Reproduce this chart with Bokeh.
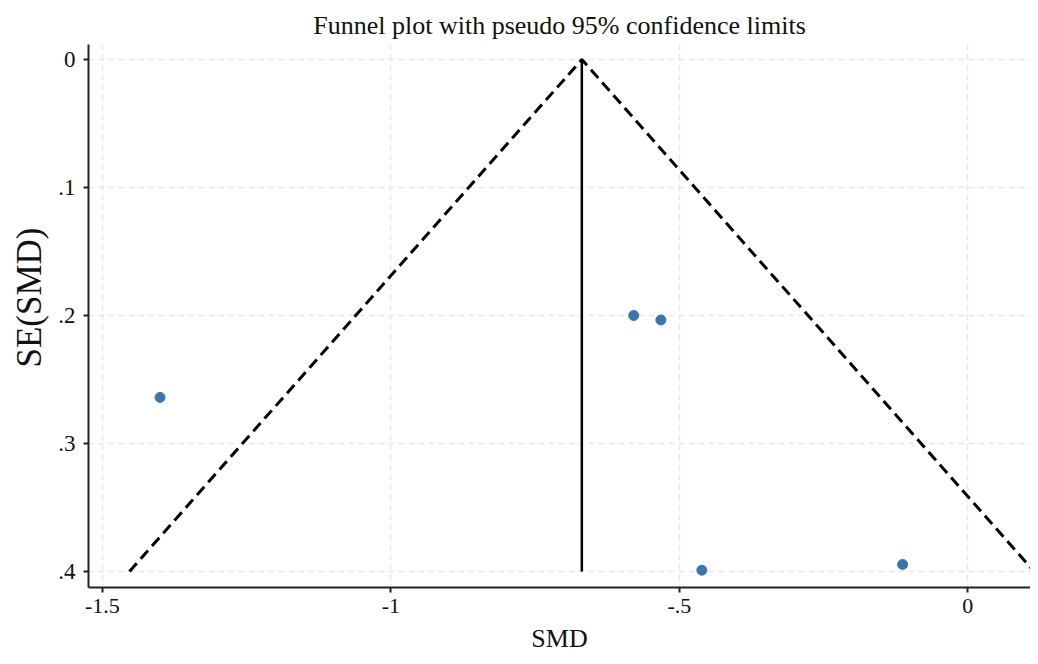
from bokeh.plotting import figure
from bokeh.models import Range1d, FixedTicker, Title
from bokeh.embed import file_html
from bokeh.resources import INLINE

# Study estimates
smd = [-1.400, -0.579, -0.532, -0.461, -0.113]
se_smd = [0.264, 0.200, 0.2035, 0.399, 0.3945]

# Pooled estimate and pseudo 95% confidence limits
pooled = -0.669
limit_x = [-1.453, -0.669, 0.115]
limit_y = [0.4, 0.0, 0.4]
pooled_y = [0.0, 0.4]

x_ticks = [-1.5, -1.0, -0.5, 0.0]
x_labels = ["-1.5", "-1", "-.5", "0"]
y_ticks = [0.0, 0.1, 0.2, 0.3, 0.4]
y_labels = ["0", ".1", ".2", ".3", ".4"]

FONT = "Liberation Serif"

p = figure(width=1030, height=656, output_backend="svg", toolbar_location=None,
           x_range=Range1d(-1.524, 0.1086), y_range=Range1d(0.4125, -0.0117),
           min_border_left=88, min_border_right=0, min_border_top=44, min_border_bottom=69,
           title="Funnel plot with pseudo 95% confidence limits")

p.title.text_font = FONT
p.title.text_font_size = "26px"
p.title.text_font_style = "normal"
p.title.align = "center"
p.title.text_color = "#111111"

p.outline_line_color = None
p.background_fill_color = "white"
p.border_fill_color = "white"

for ax in (p.xaxis[0], p.yaxis[0]):
    ax.axis_line_color = "#222222"
    ax.axis_line_width = 2
    ax.major_tick_line_color = "#222222"
    ax.major_tick_line_width = 2
    ax.major_tick_out = 5
    ax.major_tick_in = 0
    ax.minor_tick_line_color = None
    ax.major_label_text_font = FONT
    ax.major_label_text_color = "#111111"
    ax.axis_label_text_font = FONT
    ax.axis_label_text_font_style = "normal"
    ax.axis_label_text_color = "#111111"

p.xaxis.major_label_text_font_size = "22px"
p.yaxis.major_label_text_font_size = "23px"

p.xaxis.ticker = FixedTicker(ticks=x_ticks)
p.xaxis.major_label_overrides = dict(zip(x_ticks, x_labels))
p.yaxis.ticker = FixedTicker(ticks=y_ticks)
p.yaxis.major_label_overrides = dict(zip(y_ticks, y_labels))
p.yaxis.major_label_orientation = "horizontal"

p.xaxis.axis_label = "SMD"
p.xaxis.axis_label_text_font_size = "26px"
p.xaxis.major_label_standoff = 6
p.yaxis.major_label_standoff = 8
p.xaxis.axis_label_standoff = 8

ylab = Title(text="SE(SMD)", align="left", offset=220, standoff=14, text_font=FONT,
             text_font_size="35px", text_font_style="normal", text_color="#111111")
p.add_layout(ylab, "left")

p.xgrid.grid_line_color = "#e8e8e8"
p.ygrid.grid_line_color = "#e8e8e8"
p.xgrid.grid_line_dash = "6 4"
p.ygrid.grid_line_dash = "6 4"
p.xgrid.grid_line_width = 1.5
p.ygrid.grid_line_width = 1.5

p.line(limit_x, limit_y, line_color="black", line_width=3, line_dash="11 6")
p.line([pooled, pooled], pooled_y, line_color="black", line_width=2.5)
p.scatter(smd, se_smd, size=10, fill_color="#3a74b3", line_color="#3a74b3")

open("out.html", "w").write(file_html(p, INLINE))
